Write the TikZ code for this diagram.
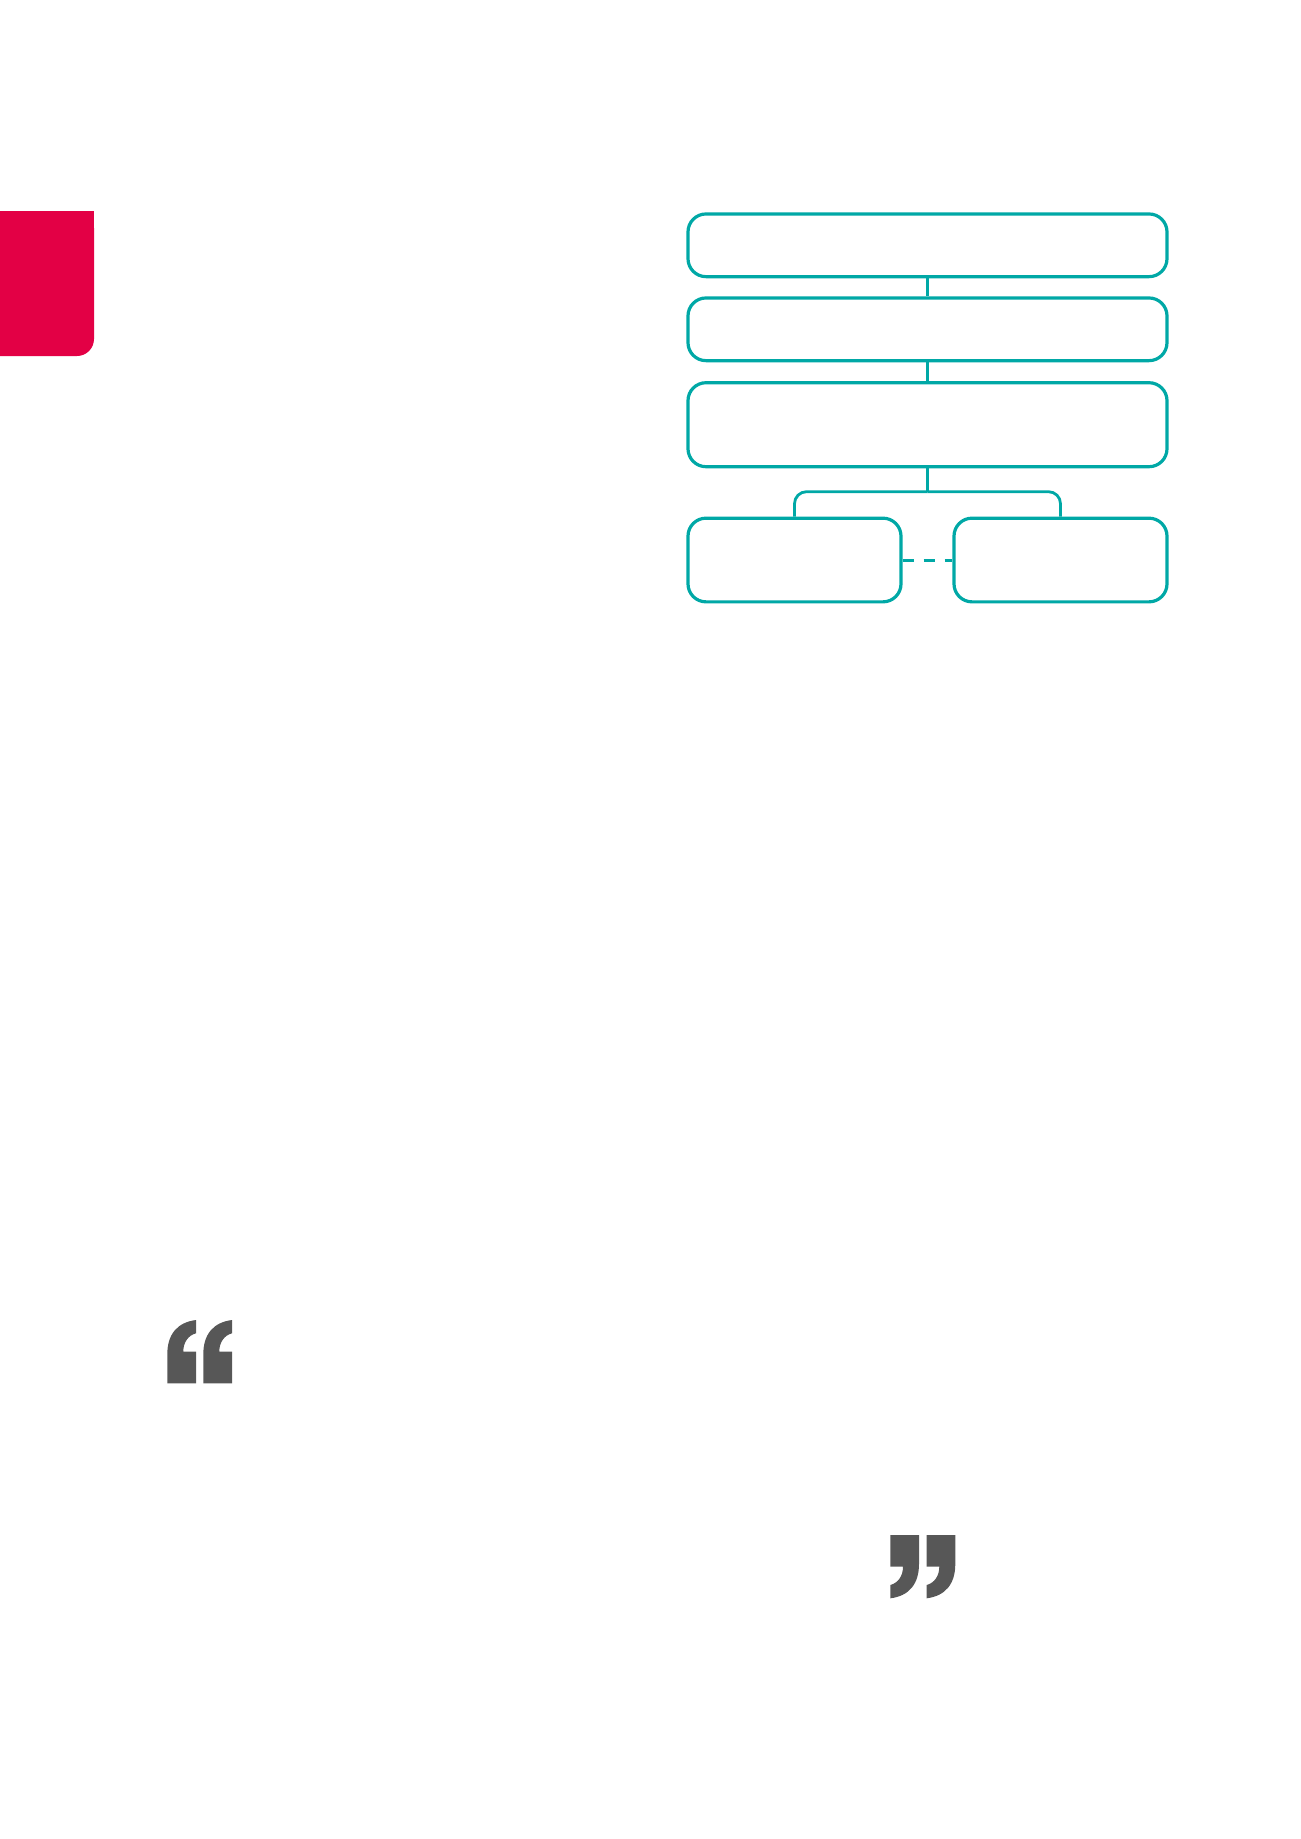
\documentclass[tikz,border=0pt]{standalone}
\usepackage{tikz}
\usetikzlibrary{positioning}

\definecolor{boxteal}{HTML}{00A8A6}
\definecolor{tabred}{HTML}{E30045}
\definecolor{quotegray}{HTML}{575757}

\begin{document}
\begin{tikzpicture}[x=0.2mm,y=-0.2mm,
        box/.style={rectangle,draw=boxteal,line width=0.64mm,rounded corners=3.6mm,inner sep=0pt,minimum width=95.8mm},
        link/.style={draw=boxteal,line width=0.74mm},
        branch/.style={draw=boxteal,line width=0.56mm,rounded corners=2.4mm},
        pics/quote/.style={code={
            \fill[quotegray] (0,0) -- (28.7,0) -- (28.7,-31.7) -- (16,-31.7)
                .. controls (16,-41) and (21,-48) .. (28.7,-50) -- (28.7,-63.3)
                .. controls (10,-61) and (0,-49) .. (0,-29) -- cycle;
        }}]

            % \draw [help lines] (0,0) grid[step=100] (1300,1839);
            \useasboundingbox (0,0) rectangle (1300,1839);

            % red tab on the left edge
            \fill[tabred,rounded corners=3.4mm] (-30,211) rectangle (94,356);
            \fill[tabred] (-30,211) rectangle (94,300);

            \path   (927.5,245.3) node (a) [box,minimum height=12.54mm] {}
                    (927.5,329.3) node (b) [box,minimum height=12.54mm] {}
                    (927.5,424.7) node (c) [box,minimum height=16.8mm] {}

                    (794.5,560) node (d) [box,minimum width=42.6mm,minimum height=16.74mm] {}
                    (1060.5,560) node (e) [box,minimum width=42.6mm,minimum height=16.74mm] {};

            \coordinate (f) at (927.5,491.7);

            \draw[link] (a) -- (b);
            \draw[link] (b) -- (c);

            \draw[branch] (c) -- (f);
            \draw[branch] (f) -| (d.north);
            \draw[branch] (f) -| (e.north);

            \draw[draw=boxteal,line width=0.6mm,dash pattern=on 2.2mm off 2mm] (d) -- (e);

            % quote marks
            \pic at (167.3,1383.3) {quote};
            \pic at (203.3,1383.3) {quote};
            \pic[rotate=180] at (919,1535) {quote};
            \pic[rotate=180] at (955.3,1535) {quote};
        \end{tikzpicture}
\end{document}
